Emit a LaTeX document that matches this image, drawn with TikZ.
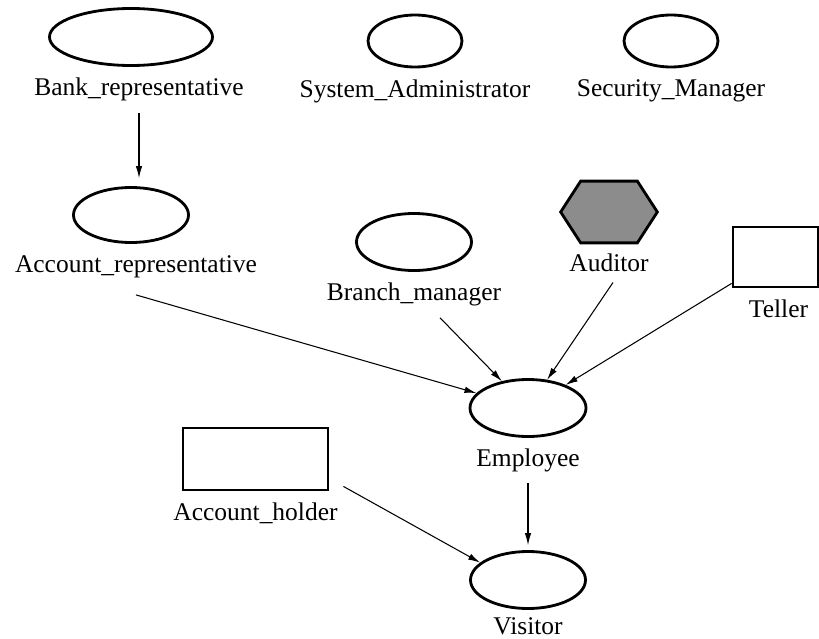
\documentclass[tikz,border=0pt]{standalone}
\usepackage{fontspec}
\setmainfont{Liberation Serif}
\usetikzlibrary{arrows.meta, calc, positioning, shapes.geometric}

\begin{document}
\begin{tikzpicture}[>={Latex[length=2.4mm,width=1.3mm]}, font=\fontsize{14.5}{16}\selectfont,
    role/.style={ellipse, draw, line width=1.6pt, inner sep=0pt, minimum width=2.3cm, minimum height=1.14cm},
    user/.style={rectangle, draw, line width=1.6pt, inner sep=0pt},
    caption/.style={inner sep=0pt, below=0.22cm of #1},
    link/.style={->, semithick}]
  \useasboundingbox (0,0) rectangle (16.38,-12.76);
  % roles
  \node[role, minimum width=3.26cm] (bank) at (2.62,-0.74) {};
  \node[role, minimum width=1.88cm, minimum height=1.04cm] (sysadm) at (8.30,-0.82) {};
  \node[role, minimum width=1.88cm, minimum height=1.04cm] (secmgr) at (13.42,-0.82) {};
  \node[role, minimum height=1.10cm] (accrep) at (2.62,-4.30) {};
  \node[role] (branch) at (8.28,-4.84) {};
  \node[role, minimum width=2.32cm] (employee) at (10.56,-8.16) {};
  \node[role] (visitor) at (10.56,-11.60) {};
  % users
  \node[user, minimum width=1.70cm, minimum height=1.20cm] (teller) at (15.51,-5.14) {};
  \node[user, minimum width=2.90cm, minimum height=1.24cm] (accholder) at (5.11,-9.18) {};
  % auditor hexagon
  \node[minimum width=1.92cm, minimum height=1.22cm, inner sep=0pt] (auditor) at (12.18,-4.24) {};
  \draw[line width=1.6pt, fill=black!45] (auditor.west) -- ([xshift=0.4cm]auditor.north west)
    -- ([xshift=-0.4cm]auditor.north east) -- (auditor.east)
    -- ([xshift=-0.4cm]auditor.south east) -- ([xshift=0.4cm]auditor.south west) -- cycle;
  % names
  \node[caption=bank, xshift=0.16cm] (banklbl) {Bank\_representative};
  \node[caption=sysadm] (sysadmlbl) {System\_Administrator};
  \node[caption=secmgr] (secmgrlbl) {Security\_Manager};
  \node[caption=accrep, xshift=0.1cm] (accreplbl) {Account\_representative};
  \node[caption=branch] (branchlbl) {Branch\_manager};
  \node[caption=auditor] (auditorlbl) {Auditor};
  \node[caption=teller, xshift=0.06cm] (tellerlbl) {Teller};
  \node[caption=employee] (employeelbl) {Employee};
  \node[caption=accholder] (accholderlbl) {Account\_holder};
  \node[inner sep=0pt, below=0.14cm of visitor] (visitorlbl) {Visitor};
  % inheritance
  \draw[link, shorten <=0.22cm, shorten >=0.16cm] (banklbl.south) -- (banklbl.south |- accrep.north);
  \draw[link] ([yshift=-0.34cm]accreplbl.south) -- (employee);
  \draw[link] ([xshift=0.52cm,yshift=-0.22cm]branchlbl.south) -- (employee);
  \draw[link] ([xshift=0.08cm,yshift=-0.2cm]auditorlbl.south) -- (employee);
  \draw[link] ([yshift=0.1cm]teller.south west) -- (employee);
  \draw[link, shorten <=0.2cm, shorten >=0.1cm] (employeelbl) -- (visitor);
  \draw[link] ([xshift=0.28cm,yshift=0.1cm]accholder.south east) -- (visitor.160);
\end{tikzpicture}
\end{document}
